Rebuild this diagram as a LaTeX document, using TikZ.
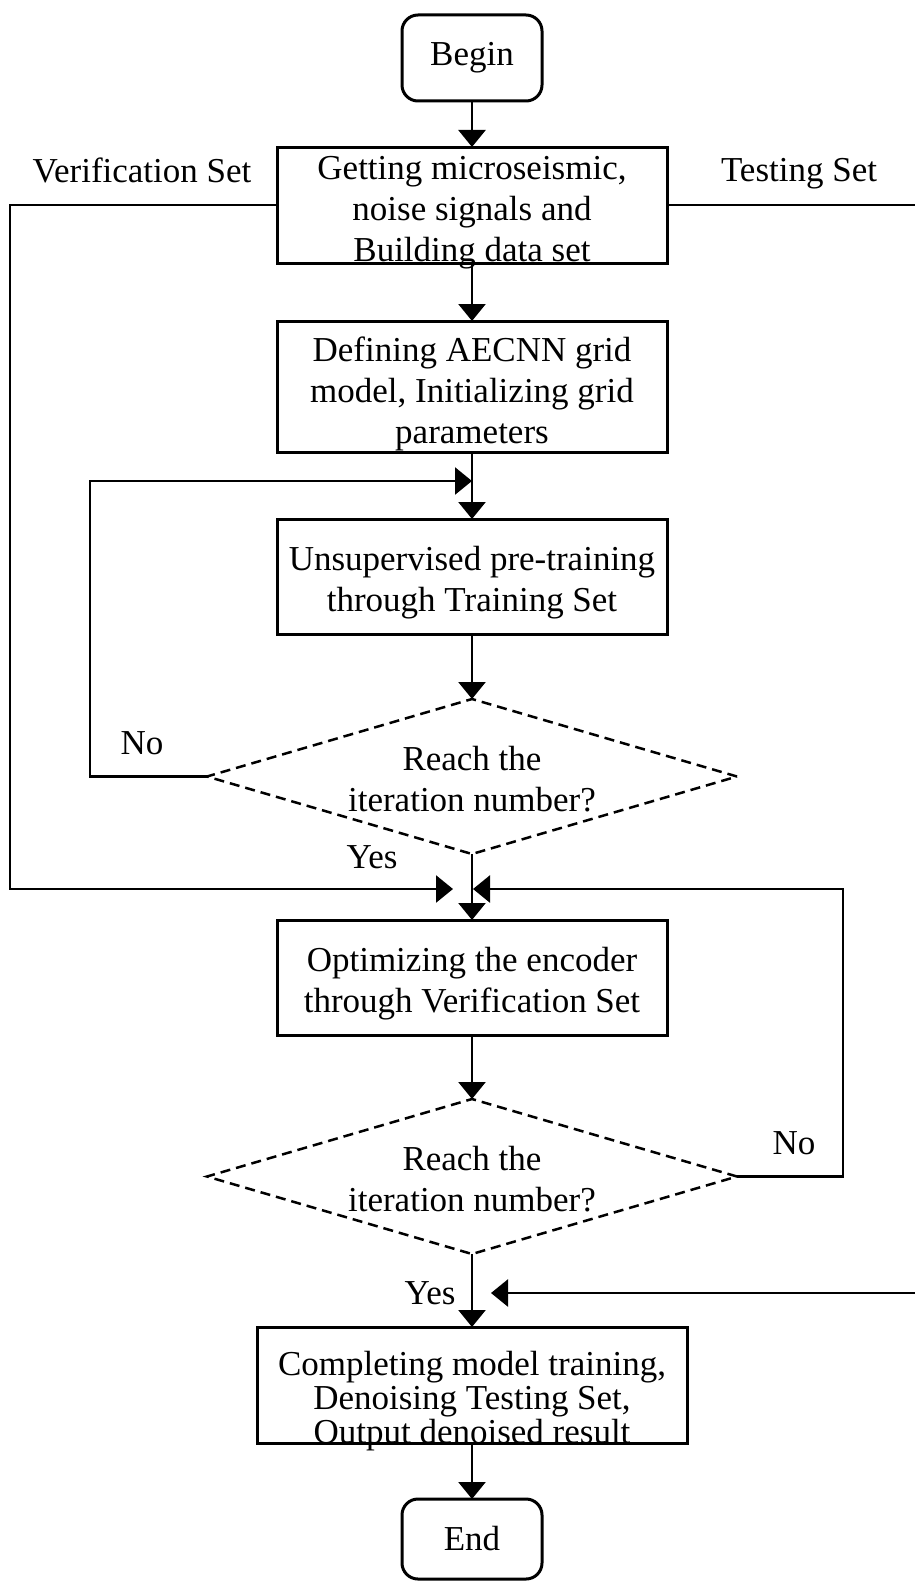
\documentclass[tikz,border=0pt]{standalone}
\usepackage{fontspec}
\setmainfont{Liberation Serif}
\usetikzlibrary{arrows.meta,positioning,shapes.geometric}

\begin{document}
\begin{tikzpicture}[
  x=1pt, y=-1pt,
  line width=2.5pt,
  every node/.style={font=\fontsize{35}{41}\selectfont},
  procbox/.style={
    draw,
    line width=3pt,
    minimum width=390pt,
    minimum height=116pt,
    inner sep=0pt,
    outer sep=0pt,
    text depth=0pt,
    align=center
  },
  termbox/.style={
    draw,
    line width=3pt,
    rounded corners=16pt,
    minimum width=140pt,
    minimum height=86pt,
    inner sep=0pt,
    outer sep=0pt
  },
  decbox/.style={
    draw,
    diamond,
    dash pattern=on 10pt off 6pt,
    aspect=3.42,
    minimum width=530pt,
    minimum height=155pt,
    inner sep=0pt,
    outer sep=0pt,
    text height=70pt,
    text depth=0pt,
    align=center
  },
  flowarrow/.style={-{Triangle[length=17pt,width=27pt]}}
]
\useasboundingbox (0,0) rectangle (915,1584);

% main column
\node[termbox] (begin) at (472,58) {Begin};
\node[procbox,text height=112pt,below=46pt of begin] (getdata)
  {Getting microseismic,\\ noise signals and\\ Building data set};
\node[procbox,minimum height=131pt,text height=114pt,below=58pt of getdata] (defgrid)
  {Defining AECNN grid\\ model, Initializing grid\\ parameters};
\node[procbox,minimum height=115pt,text height=69pt,below=67pt of defgrid] (pretrain)
  {Unsupervised pre-training\\ through Training Set};
\node[decbox,below=65pt of pretrain] (reach1)
  {Reach the\\ iteration number?};
\node[procbox,minimum height=115pt,text height=69pt,below=66pt of reach1] (optenc)
  {Optimizing the encoder\\ through Verification Set};
\node[decbox,below=64pt of optenc] (reach2)
  {Reach the\\ iteration number?};
\node[procbox,minimum width=430pt,text height=116pt,below=73pt of reach2,
  font=\fontsize{35}{34}\selectfont] (denoise)
  {Completing model training,\\ Denoising Testing Set,\\ Output denoised result};
\node[termbox,minimum height=80pt,below=56pt of denoise] (end) {End};

% labels
\node (verlabel) at (142,170) {Verification Set};
\node (testlabel) at (799,174) {Testing Set};
\node (no1) at (142,743) {No};
\node (yes1) at (372,857) {Yes};
\node (no2) at (794,1143) {No};
\node (yes2) at (430,1293) {Yes};

% free ends on the column
\coordinate (loopin) at (472,481);
\coordinate (verin) at (453,889);
\coordinate (optin) at (473,889);
\coordinate (testin) at (491,1293);

% connectors
\draw[flowarrow] (begin) -- (getdata);
\draw[flowarrow] (getdata) -- (defgrid);
\draw[flowarrow] (defgrid) -- (pretrain);
\draw[flowarrow] (pretrain) -- (reach1);
\draw[flowarrow] (reach1) -- (optenc);
\draw[flowarrow] (optenc) -- (reach2);
\draw[flowarrow] (reach2) -- (denoise);
\draw[flowarrow] (denoise) -- (end);

\draw[flowarrow] (reach1.west) -| (90,481) -- (loopin);
\draw[flowarrow] (reach2.east) -| (843,889) -- (optin);
\draw[flowarrow] (getdata.west) -| (10,889) -- (verin);
\draw[flowarrow] (getdata.east) -| (930,1293) -- (testin);
\end{tikzpicture}
\end{document}
